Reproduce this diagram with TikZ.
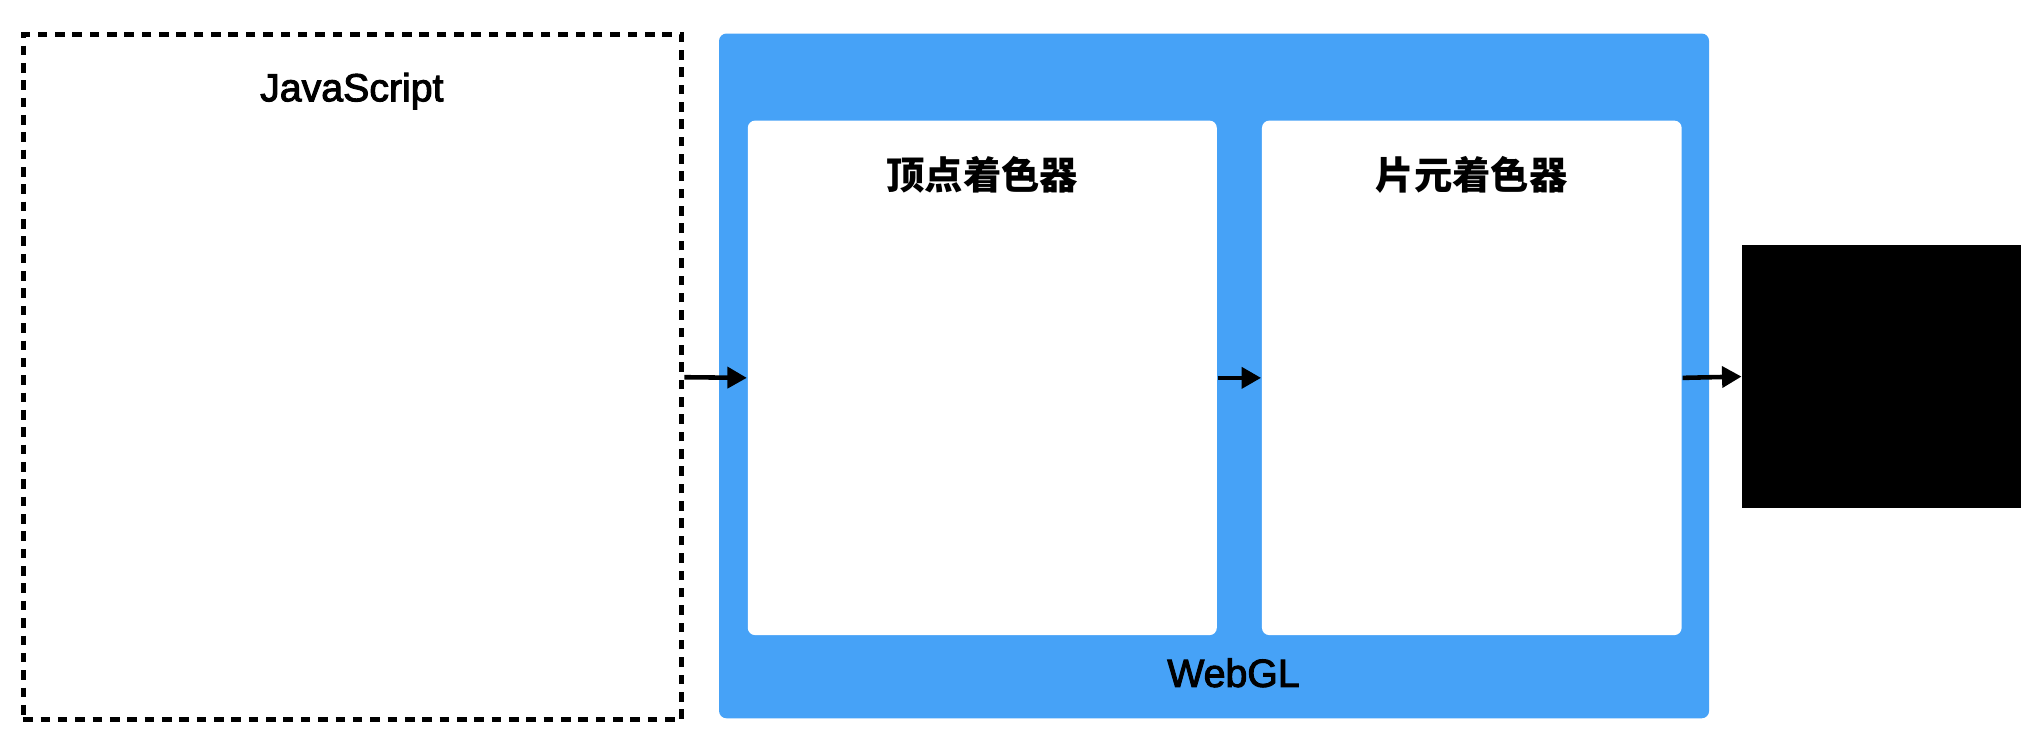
\documentclass[tikz,border=0pt]{standalone}
\usepackage{fontspec}
\setmainfont{Liberation Sans}
\newfontfamily\titlefont{Liberation Sans}[FakeBold=2.6]
\newfontfamily\cjk{Noto Sans CJK SC}
\usetikzlibrary{arrows.meta}
\definecolor{glblue}{RGB}{70,162,247}
\begin{document}
\begin{tikzpicture}[x=0.01cm,y=-0.01cm,
        jsbox/.style={draw,line width=1.1pt,dash pattern=on 2.1pt off 1.7pt,minimum width=5.07cm,minimum height=5.27cm,inner sep=0},
        glbox/.style={fill=glblue,rounded corners=1.6pt,minimum width=7.62cm,minimum height=5.27cm,inner sep=0},
        shaderbox/.style={fill=white,rounded corners=1.6pt,minimum height=3.96cm,inner sep=0},
        title/.style={anchor=base,font=\titlefont\fontsize{8.6pt}{10pt}\selectfont},
        cjktitle/.style={anchor=base,font=\cjk\bfseries\fontsize{8.4pt}{10pt}\selectfont},
        flow/.style={line width=1pt,-{Triangle[length=0.15cm,width=0.16cm]}}]
                \useasboundingbox (0,0) rectangle (1568,575);
                \node[jsbox] (js) at (271.5,290.5) {};
                \node[glbox] (gl) at (935,289.5) {};
                \node[shaderbox,minimum width=3.61cm] (vs) at (756.5,291) {};
                \node[shaderbox,minimum width=3.23cm] (fs) at (1133.5,291) {};
                \node[fill=black,minimum width=2.14cm,minimum height=2.02cm,inner sep=0] (screen) at (1449,290) {};
                \node[title] (jslabel) at (271,78) {JavaScript};
                \node[title] (gllabel) at (950,529) {WebGL};
                \node[cjktitle] (vslabel) at (756.5,146) {顶点着色器};
                \node[cjktitle] (fslabel) at (1133.5,146) {片元着色器};
                \draw[flow] (js.east) -- (vs.west);
                \draw[flow] (vs.east) -- (fs.west);
                \draw[flow] (fs.east) -- (screen.west);
            \end{tikzpicture}
\end{document}
